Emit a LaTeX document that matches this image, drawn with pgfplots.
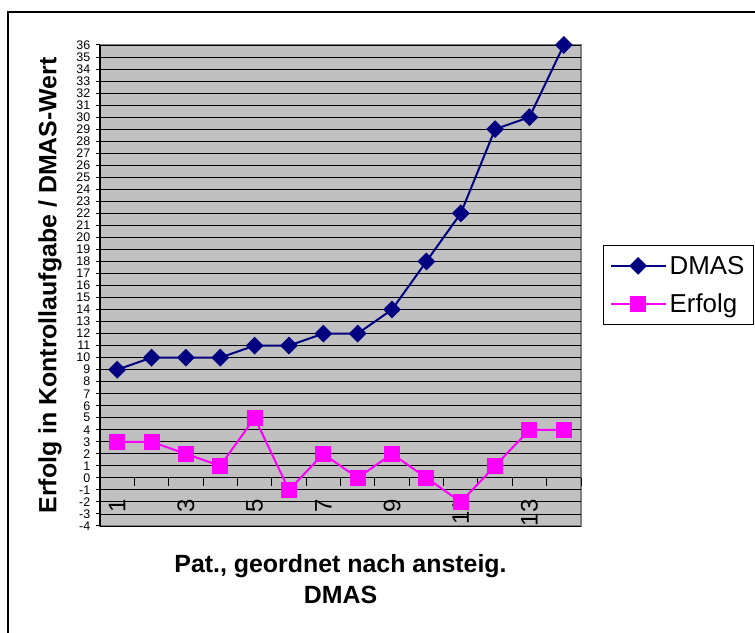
\documentclass[border=0pt]{standalone}
\usepackage{fontspec}
\setmainfont{Liberation Sans}
\usepackage{pgfplots}
\pgfplotsset{compat=1.18}
\definecolor{plotgray}{RGB}{192,192,192}
\definecolor{bordergray}{RGB}{128,128,128}
\definecolor{dmas}{RGB}{0,0,128}
\definecolor{erfolg}{RGB}{255,0,255}
\begin{document}
\begin{tikzpicture}[x=1bp,y=1bp]
\useasboundingbox (0,0) rectangle (755,633);
\clip (0,0) rectangle (755,633);
\draw[black, line width=1.2bp] (8,-20) -- (8,621) -- (800,621);
\begin{axis}[
  at={(100bp,107bp)}, anchor=south west,
  scale only axis, width=481bp, height=481bp,
  xmin=0.5, xmax=14.5, ymin=-4, ymax=36,
  clip=false,
  axis x line*=middle, axis y line*=left,
  hide obscured x ticks=false, hide obscured y ticks=false,
  axis background/.style={fill=plotgray, draw=bordergray, line width=2.2bp},
  axis line style={black, line width=1.2bp},
  ytick=\empty,
  extra y ticks={-4,-3,...,36},
  extra y tick style={major tick length=4bp, grid=major, tick label style={font=\fontsize{12.5}{13}\selectfont, inner xsep=5.5bp}},
  ytick align=outside, xtick align=outside,
  major tick length=8bp,
  tick style={black, line width=1bp},
  xtick={0.5,1.5,...,14.5},
  xticklabels={},
  extra x ticks={1,3,5,7,9,11,13},
  extra x tick labels={1,3,5,7,9,11,13},
  extra x tick style={major tick length=0pt, tick label style={yshift=-18bp, rotate=90, anchor=east, font=\fontsize{24}{24}\selectfont}},
  major grid style={black, line width=0.9bp},
  /pgf/number format/assume math mode=true,
  ylabel={Erfolg in Kontrollaufgabe / DMAS-Wert},
  every axis y label/.style={at={(axis description cs:-0.104,0.5)}, rotate=90, anchor=center, font=\fontsize{25}{25}\selectfont\bfseries},
  xlabel={Pat., geordnet nach ansteig.\\DMAS},
  every axis x label/.style={at={(axis description cs:0.5,-0.11)}, anchor=center, align=center, font=\fontsize{25}{31}\selectfont\bfseries},
  legend style={at={(axis description cs:1.046,0.584)}, anchor=north west, draw=black, line width=1bp, fill=white,
    font=\fontsize{26}{26}\selectfont, inner xsep=6bp, inner ysep=8.5bp, row sep=14bp,
    cells={anchor=west}, nodes={inner xsep=3bp, inner ysep=2bp}},
  legend image code/.code={\draw[mark repeat=2,mark phase=2,#1] plot coordinates {(0bp,0bp) (27.5bp,0bp) (55bp,0bp)};},
]
\addplot[color=dmas, line width=2bp, mark=square*, mark size=5.3bp, mark options={rotate=45, solid, fill=dmas}]
  coordinates {(1,9) (2,10) (3,10) (4,10) (5,11) (6,11) (7,12) (8,12) (9,14) (10,18) (11,22) (12,29) (13,30) (14,36)};
\addlegendentry{DMAS}
\addplot[color=erfolg, line width=2bp, mark=square*, mark size=7bp, mark options={solid, fill=erfolg}]
  coordinates {(1,3) (2,3) (3,2) (4,1) (5,5) (6,-1) (7,2) (8,0) (9,2) (10,0) (11,-2) (12,1) (13,4) (14,4)};
\addlegendentry{Erfolg}
\end{axis}
\end{tikzpicture}
\end{document}
